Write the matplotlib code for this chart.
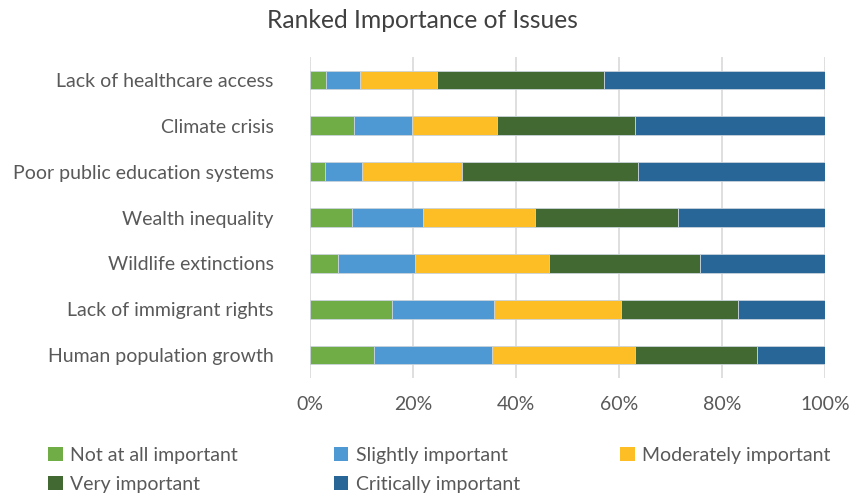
import numpy as np
import matplotlib.pyplot as plt
from matplotlib.patches import Patch

plt.rcParams['font.family'] = ['Lato', 'DejaVu Sans']

issues = [
    "Lack of healthcare access",
    "Climate crisis",
    "Poor public education systems",
    "Wealth inequality",
    "Wildlife extinctions",
    "Lack of immigrant rights",
    "Human population growth",
]
levels = [
    "Not at all important",
    "Slightly important",
    "Moderately important",
    "Very important",
    "Critically important",
]

# share of respondents (%) per level, one list per issue
not_at_all = [3.2, 8.5, 3.0, 8.2, 5.5, 15.9, 12.5]
slightly = [6.5, 11.3, 7.1, 13.7, 14.9, 19.8, 22.8]
moderately = [14.9, 16.5, 19.4, 21.7, 26.1, 24.7, 27.8]
very = [32.4, 26.9, 34.2, 27.9, 29.3, 22.8, 23.6]
critically = [43.0, 36.8, 36.3, 28.5, 24.2, 16.8, 13.3]

colors = ["#70AD47", "#4E98D3", "#FDBD24", "#426932", "#276696"]
text_color = "#595959"

fig = plt.figure(figsize=(8.56, 4.98), dpi=100)
ax = fig.add_axes([0.3621, 0.241, 0.6017, 0.6445])

y = np.arange(len(issues))
left = np.zeros(len(issues))
for vals, col, name in zip([not_at_all, slightly, moderately, very, critically], colors, levels):
    vals = np.array(vals)
    ax.barh(y, vals, left=left, height=0.41, color=col, edgecolor="#C9D3DC",
            linewidth=0.6, label=name, zorder=3)
    left += vals

ax.set_ylim(len(issues) - 0.5, -0.5)
ax.set_xlim(0, 100)
ax.set_yticks(y)
ax.set_yticklabels(issues, fontsize=14, color=text_color)
ax.set_xticks(np.arange(0, 101, 20))
ax.set_xticklabels([f"{v}%" for v in range(0, 101, 20)], fontsize=14, color=text_color)
ax.tick_params(length=0)
ax.tick_params(axis="x", pad=13)
ax.tick_params(axis="y", pad=26)
ax.grid(axis="x", color="#D9D9D9", linewidth=1.2, zorder=0)
for s in ax.spines.values():
    s.set_visible(False)

fig.text(0.4936, 0.958, "Ranked Importance of Issues", ha="center", va="center",
         fontsize=17.7, color="#404040")

# legend laid out in a fixed grid, three columns by two rows
legend_pos = [(0.0561, 0.0863), (0.390, 0.0863), (0.7243, 0.0863),
              (0.0561, 0.0281), (0.390, 0.0281)]
for name, col, (lx, ly) in zip(levels, colors, legend_pos):
    fig.legend(handles=[Patch(facecolor=col, label=name)], loc="center left",
               bbox_to_anchor=(lx, ly), frameon=False, fontsize=14,
               handlelength=0.75, handleheight=0.75, handletextpad=0.4,
               borderaxespad=0, borderpad=0, labelcolor=text_color)

fig.savefig("out.png", dpi=100)
